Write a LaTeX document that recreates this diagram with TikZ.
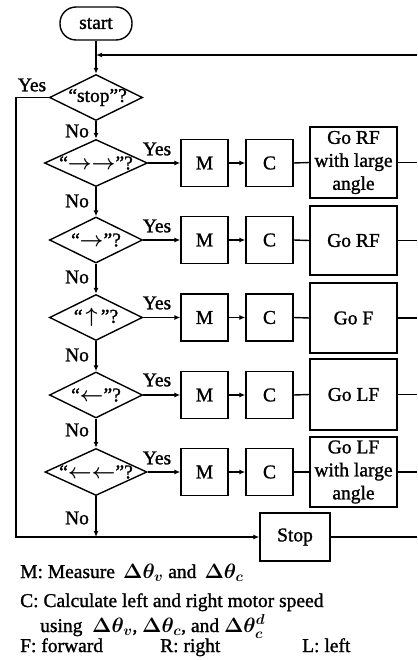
\documentclass[tikz,border=0pt]{standalone}
\usepackage{amsmath}
\usepackage{fontspec}
\setmainfont{Liberation Serif}[RawFeature={embolden=1.3}]
\usetikzlibrary{shapes.geometric,arrows.meta}
\begin{document}
\begin{tikzpicture}[x=1pt,y=-1pt,
  every node/.style={font=\fontsize{19.5}{23}\selectfont},
  ln/.style={line width=1.4pt},
  arr/.style={ln,-{Latex[length=6pt,width=5pt]}},
  dia/.style={draw,ln,diamond,inner sep=0pt,minimum width=93pt,minimum height=46pt},
  mbox/.style={draw,ln,inner sep=0pt,minimum width=47pt,minimum height=47pt},
  gobox/.style={draw,ln,inner sep=0pt,minimum width=87pt,minimum height=70pt,align=center},
  lbl/.style={inner sep=0pt},
]
\useasboundingbox (0,0) rectangle (417,660);

% start and feedback
\node[draw,ln,rounded corners=16pt,minimum width=72pt,minimum height=33pt,inner sep=0pt] (start) at (96,23.5) {start};
\coordinate (fb) at (96,55);
\coordinate (rt) at (417,55);

% decisions
\node[dia] (d0) at (96,97.5) {\makebox[0pt]{\,“stop”?}};
\node[dia,minimum width=103pt,minimum height=47pt] (d1) at (96,163) {\makebox[0pt]{“$\boldsymbol{\rightarrow}\boldsymbol{\rightarrow}$"?}};
\node[dia] (d2) at (96,240) {\makebox[0pt]{“$\boldsymbol{\rightarrow}$"?}};
\node[dia] (d3) at (96,317.5) {\makebox[0pt]{“\,$\boldsymbol{\uparrow}$\,"?}};
\node[dia] (d4) at (96,395) {\makebox[0pt]{“$\boldsymbol{\leftarrow}$"?}};
\node[dia,minimum width=102pt,minimum height=47pt] (d5) at (96,472) {\makebox[0pt]{“$\boldsymbol{\leftarrow}\boldsymbol{\leftarrow}$"?}};

% M and C boxes
\node[mbox] (m1) at (204.5,163) {M};
\node[mbox] (c1) at (269.5,163) {C};
\node[mbox] (m2) at (204.5,240) {M};
\node[mbox] (c2) at (269.5,240) {C};
\node[mbox] (m3) at (204.5,317.5) {M};
\node[mbox] (c3) at (269.5,317.5) {C};
\node[mbox] (m4) at (204.5,395) {M};
\node[mbox] (c4) at (269.5,395) {C};
\node[mbox] (m5) at (204.5,472) {M};
\node[mbox] (c5) at (269.5,472) {C};

% action boxes
\node[gobox,minimum height=71pt] (g1) at (353.5,162.5) {Go RF\\with large\\angle};
\node[gobox,minimum height=69pt] (g2) at (353.5,240.5) {Go RF};
\node[gobox] (g3) at (353.5,318) {Go F};
\node[gobox,minimum height=71pt] (g4) at (353.5,394.5) {Go LF};
\node[gobox] (g5) at (353.5,472) {Go LF\\with large\\angle};
\node[draw,ln,inner sep=0pt,minimum width=70pt,minimum height=48pt] (stop) at (295,537) {Stop};

\coordinate (j) at (96,537);
\coordinate (ll) at (16,537);

% labels
\node[lbl] (y0) at (32,85) {Yes};
\node[lbl] (y1) at (157,149) {Yes};
\node[lbl] (y2) at (157,226) {Yes};
\node[lbl] (y3) at (157,303) {Yes};
\node[lbl] (y4) at (157,380) {Yes};
\node[lbl] (y5) at (157,458) {Yes};
\node[lbl] (n0) at (77,131) {No};
\node[lbl] (n1) at (77,201) {No};
\node[lbl] (n2) at (77,277) {No};
\node[lbl] (n3) at (77,355) {No};
\node[lbl] (n4) at (77,430) {No};
\node[lbl] (n5) at (77,518) {No};

% connectors
\draw[ln] (start.south) -- (fb);
\draw[arr] (rt) -- (fb);
\draw[arr] (fb) -- (d0.north);
\draw[arr] (d0.south) -- (d1.north);
\draw[arr] (d1.south) -- (d2.north);
\draw[arr] (d2.south) -- (d3.north);
\draw[arr] (d3.south) -- (d4.north);
\draw[arr] (d4.south) -- (d5.north);
\draw[arr] (d5.south) -- (j);
\draw[ln] (d0.west) -| (ll) -- (j);
\draw[arr] (j) -- (stop.west);
\draw[ln] (stop.east) -- (stop.east -| rt);
\foreach \i in {1,...,5}{
  \draw[arr] (d\i.east) -- (m\i.west);
  \draw[arr] (m\i.east) -- (c\i.west);
  \draw[ln] (c\i.east) -- (g\i.west);
  \draw[ln] (g\i.east) -- (g\i.east -| rt);
}

% legend
\node[lbl,anchor=base west] (lg1) at (20,578) {M: Measure \,$\boldsymbol{\Delta\theta_v}$ and \,$\boldsymbol{\Delta\theta_c}$};
\node[lbl,anchor=base west] (lg2) at (20,607) {C: Calculate left and right motor speed};
\node[lbl,anchor=base west] (lg3) at (40,632) {using \ $\boldsymbol{\Delta\theta_v}$, $\boldsymbol{\Delta\theta_c}$, and \smash{$\boldsymbol{\Delta\theta_c^d}$}};
\node[lbl,anchor=base west] (lg4) at (20,652) {F: forward};
\node[lbl,anchor=base west] (lg5) at (160,652) {R: right};
\node[lbl,anchor=base west] (lg6) at (302,652) {L: left};
\end{tikzpicture}
\end{document}
